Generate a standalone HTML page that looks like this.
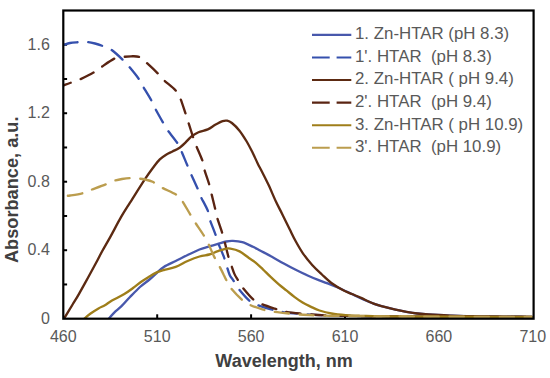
<!DOCTYPE html>
<html><head><meta charset="utf-8"><style>
html,body{margin:0;padding:0;background:#fff;}
body{width:550px;height:378px;overflow:hidden;font-family:"Liberation Sans",sans-serif;}
svg{display:block;}
</style></head><body>
<svg width="550" height="378" viewBox="0 0 550 378">
<g stroke="#000" stroke-width="2"><line x1="63.3" y1="284.46" x2="67.1" y2="284.46"/><line x1="63.3" y1="250.21" x2="67.1" y2="250.21"/><line x1="63.3" y1="215.97" x2="67.1" y2="215.97"/><line x1="63.3" y1="181.72" x2="67.1" y2="181.72"/><line x1="63.3" y1="147.48" x2="67.1" y2="147.48"/><line x1="63.3" y1="113.23" x2="67.1" y2="113.23"/><line x1="63.3" y1="78.99" x2="67.1" y2="78.99"/><line x1="63.3" y1="44.74" x2="67.1" y2="44.74"/><line x1="157.20" y1="318.7" x2="157.20" y2="314.3"/><line x1="251.10" y1="318.7" x2="251.10" y2="314.3"/><line x1="345.00" y1="318.7" x2="345.00" y2="314.3"/><line x1="438.90" y1="318.7" x2="438.90" y2="314.3"/></g>
<defs><clipPath id="pa"><rect x="63.3" y="10.5" width="469.5" height="308.2"/></clipPath></defs><g clip-path="url(#pa)">
<path d="M108.4,319.2 C109.3,318.1 111.8,315.0 114.0,312.8 C116.2,310.6 118.8,308.8 121.5,306.2 C124.2,303.6 126.9,300.2 130.0,297.0 C133.1,293.8 136.8,289.9 140.0,287.0 C143.2,284.1 146.7,281.8 149.5,279.5 C152.3,277.2 154.3,275.1 156.7,273.0 C159.1,270.9 160.6,269.0 163.8,267.0 C167.0,265.0 171.7,263.0 175.7,261.0 C179.7,259.0 183.6,256.9 187.6,255.0 C191.6,253.1 196.1,250.9 199.5,249.5 C202.9,248.1 205.0,247.7 207.9,246.8 C210.8,245.9 214.1,245.1 217.2,244.2 C220.3,243.3 223.8,242.1 226.4,241.5 C229.0,240.9 230.3,240.8 233.0,240.9 C235.7,241.0 239.0,241.2 242.3,242.2 C245.6,243.2 250.0,245.4 252.9,246.8 C255.8,248.2 256.8,248.8 260.0,250.5 C263.2,252.2 267.9,254.6 271.9,256.8 C275.9,259.0 279.8,261.3 283.8,263.5 C287.8,265.7 291.7,267.8 295.7,269.8 C299.7,271.8 304.0,273.9 307.6,275.5 C311.2,277.1 314.2,278.4 317.5,279.7 C320.8,281.0 323.9,281.9 327.6,283.4 C331.4,284.9 336.0,286.7 340.0,288.5 C344.0,290.3 348.0,292.2 351.8,294.0 C355.6,295.8 359.1,297.7 362.7,299.3 C366.3,300.9 370.0,302.3 373.6,303.6 C377.2,304.9 380.9,305.9 384.5,306.9 C388.1,307.9 391.9,308.9 395.5,309.7 C399.1,310.5 402.8,311.3 406.4,311.9 C410.0,312.5 413.7,313.1 417.3,313.5 C420.9,313.9 422.8,314.1 428.2,314.5 C433.6,314.9 441.4,315.3 450.0,315.6 C458.6,315.9 466.3,316.2 480.0,316.4 C493.7,316.6 523.3,316.8 532.0,316.9" fill="none" stroke="#4858ac" stroke-width="2.35" stroke-linecap="round" stroke-linejoin="round"/>
<path d="M63.6,45.0 C64.7,44.7 67.6,43.5 70.0,43.0 C72.4,42.5 75.1,42.4 77.9,42.2 C80.7,42.0 83.8,41.7 86.6,41.9 C89.4,42.1 92.3,42.8 95.0,43.5 C97.7,44.2 100.1,45.0 102.5,45.9 C104.9,46.8 107.3,47.4 109.6,48.7 C111.8,50.0 113.9,51.7 116.0,53.5 C118.1,55.3 120.2,57.3 122.3,59.4 C124.4,61.5 125.9,62.9 128.7,66.2 C131.5,69.5 136.7,75.9 139.0,79.2 C141.3,82.5 140.6,82.5 142.7,86.0 C144.8,89.5 149.2,96.6 151.3,100.3 C153.4,104.0 153.2,104.6 155.1,108.3 C157.0,112.0 161.0,119.0 163.0,122.5 C165.0,126.0 164.5,125.9 166.9,129.3 C169.3,132.7 174.8,139.2 177.2,142.8 C179.6,146.4 179.5,146.9 181.2,150.7 C182.9,154.5 185.9,162.1 187.5,165.8 C189.1,169.5 188.8,169.2 190.5,173.0 C192.2,176.8 195.9,184.7 197.6,188.5 C199.2,192.3 198.7,192.2 200.4,195.9 C202.1,199.6 206.3,206.8 207.8,210.7 C209.3,214.5 208.3,215.1 209.6,219.0 C210.9,222.9 214.0,230.4 215.4,234.3 C216.8,238.2 216.4,238.5 217.8,242.2 C219.2,245.9 222.4,252.8 223.8,256.7 C225.2,260.6 225.5,262.2 226.5,265.3 C227.5,268.4 228.6,272.5 229.7,275.0 C230.8,277.5 232.0,278.2 233.3,280.3 C234.6,282.4 235.1,284.2 237.6,287.5 C240.1,290.8 245.5,297.1 248.5,299.9 C251.5,302.7 252.0,302.7 255.8,304.3 C259.6,305.9 265.4,307.9 271.1,309.4 C276.8,310.8 280.2,312.0 290.0,313.0 C299.8,314.0 311.7,314.9 330.0,315.5 C348.3,316.1 366.3,316.2 400.0,316.5 C433.7,316.8 510.0,316.9 532.0,317.0" fill="none" stroke="#3550ad" stroke-width="2.35" stroke-linecap="round" stroke-linejoin="round" stroke-dasharray="14.3 10.7" stroke-dashoffset="0.0"/>
<path d="M64.0,318.7 C65.4,316.4 69.9,309.0 72.3,305.0 C74.7,301.0 76.0,299.3 78.6,294.7 C81.2,290.1 84.9,283.3 88.1,277.5 C91.3,271.7 95.3,264.3 97.6,260.0 C99.9,255.7 99.9,255.3 102.0,251.5 C104.1,247.7 107.0,242.8 110.2,237.1 C113.4,231.4 117.7,222.9 121.0,217.2 C124.3,211.5 126.0,209.0 130.0,202.7 C134.0,196.4 140.9,185.3 144.8,179.4 C148.7,173.5 150.7,170.8 153.2,167.5 C155.7,164.2 157.7,161.5 159.8,159.4 C162.0,157.3 164.0,156.0 166.1,154.7 C168.2,153.4 170.4,152.6 172.5,151.5 C174.6,150.4 176.7,149.8 178.8,148.3 C180.9,146.9 183.1,144.8 185.2,142.8 C187.3,140.8 189.3,138.2 191.5,136.4 C193.7,134.6 195.8,133.4 198.5,132.2 C201.2,131.0 205.0,130.6 207.8,129.4 C210.6,128.2 212.7,126.2 215.2,124.8 C217.7,123.4 220.6,121.8 222.6,121.1 C224.6,120.4 225.6,120.4 227.2,120.7 C228.8,121.0 229.9,121.4 231.9,123.0 C233.9,124.6 236.8,127.3 239.3,130.4 C241.8,133.5 244.5,137.9 246.7,141.5 C248.8,145.1 250.3,148.0 252.2,151.7 C254.0,155.4 256.3,160.6 257.8,163.7 C259.3,166.8 259.3,166.5 261.1,170.0 C262.9,173.5 266.0,179.6 268.5,184.8 C271.0,190.1 273.6,196.6 275.9,201.5 C278.2,206.4 280.1,209.7 282.4,214.4 C284.7,219.1 287.6,225.0 289.8,229.5 C292.0,234.0 293.5,237.3 295.7,241.3 C297.9,245.3 300.1,249.3 302.9,253.3 C305.7,257.3 309.2,261.7 312.4,265.2 C315.6,268.7 318.7,271.5 321.9,274.5 C325.1,277.5 327.8,280.4 331.4,283.0 C335.0,285.6 339.9,288.5 343.3,290.3 C346.7,292.1 349.0,292.7 352.0,294.0 C355.0,295.3 357.5,296.3 361.1,297.9 C364.7,299.5 369.7,302.1 373.6,303.6 C377.5,305.1 380.9,305.9 384.5,306.9 C388.1,307.9 391.9,308.9 395.5,309.7 C399.1,310.5 402.8,311.3 406.4,311.9 C410.0,312.5 413.7,313.1 417.3,313.5 C420.9,313.9 422.8,314.1 428.2,314.5 C433.6,314.9 441.4,315.3 450.0,315.6 C458.6,315.9 466.3,316.1 480.0,316.3 C493.7,316.5 523.3,316.7 532.0,316.8" fill="none" stroke="#5c2a12" stroke-width="2.35" stroke-linecap="round" stroke-linejoin="round"/>
<path d="M63.6,85.4 C64.7,85.0 67.5,83.9 70.0,83.0 C72.5,82.1 74.8,81.8 78.7,80.0 C82.7,78.2 90.2,74.5 93.7,72.5 C97.2,70.5 96.5,70.3 100.0,68.0 C103.5,65.7 110.6,60.4 114.4,58.6 C118.2,56.8 120.2,57.4 123.0,57.0 C125.8,56.6 128.2,56.3 131.0,56.3 C133.8,56.3 137.1,56.0 139.6,57.0 C142.1,58.0 142.8,59.5 145.9,62.2 C149.0,65.0 155.0,70.6 157.9,73.5 C160.8,76.4 160.6,77.0 163.5,79.8 C166.4,82.6 172.6,87.2 175.4,90.2 C178.2,93.2 178.5,94.1 180.2,98.1 C181.9,102.1 184.3,110.0 185.7,114.0 C187.0,118.0 187.1,118.2 188.3,122.1 C189.5,126.0 191.8,133.2 193.1,137.2 C194.4,141.2 194.8,142.1 196.3,146.0 C197.9,149.9 201.1,156.8 202.4,160.5 C203.7,164.2 203.1,165.1 204.0,168.3 C204.9,171.6 206.9,177.2 207.8,180.0 C208.7,182.8 208.8,182.8 209.3,184.8 C209.9,186.8 210.1,188.2 211.1,192.2 C212.1,196.2 214.2,204.7 215.2,208.9 C216.2,213.1 215.8,213.2 217.0,217.2 C218.2,221.2 221.0,229.1 222.2,233.0 C223.4,236.9 223.4,237.0 224.4,240.9 C225.4,244.8 227.3,252.8 228.4,256.7 C229.5,260.6 230.1,261.7 231.1,264.6 C232.1,267.5 233.3,271.4 234.4,273.9 C235.5,276.4 236.3,277.4 237.6,279.5 C238.9,281.6 239.4,283.5 242.0,286.8 C244.6,290.1 249.9,296.4 252.9,299.2 C255.9,302.0 256.6,301.9 260.2,303.5 C263.8,305.1 270.7,307.3 274.7,308.6 C278.7,309.9 280.0,310.7 284.2,311.5 C288.4,312.3 292.4,312.8 300.0,313.5 C307.6,314.2 313.3,315.0 330.0,315.5 C346.7,316.0 366.3,316.2 400.0,316.5 C433.7,316.8 510.0,316.9 532.0,317.0" fill="none" stroke="#5a2412" stroke-width="2.35" stroke-linecap="round" stroke-linejoin="round" stroke-dasharray="14.3 10.7" stroke-dashoffset="6.7"/>
<path d="M84.4,318.7 C85.4,317.8 88.2,315.2 90.6,313.5 C92.9,311.8 96.1,309.8 98.5,308.4 C100.9,307.0 102.7,306.5 104.9,305.2 C107.2,303.9 108.8,302.3 112.0,300.5 C115.2,298.7 120.4,296.4 123.9,294.3 C127.4,292.2 130.0,290.2 133.0,288.0 C136.0,285.8 139.2,283.1 142.0,281.2 C144.8,279.3 147.1,277.9 149.5,276.4 C151.9,274.9 154.3,273.5 156.7,272.4 C159.1,271.3 160.6,270.9 163.8,270.0 C167.0,269.1 171.7,268.4 175.7,266.9 C179.7,265.4 183.6,262.7 187.6,261.0 C191.6,259.3 195.9,257.6 199.5,256.5 C203.1,255.4 206.4,255.3 209.3,254.5 C212.2,253.7 214.6,252.3 217.2,251.4 C219.8,250.5 222.9,249.3 225.1,248.8 C227.3,248.3 228.0,248.2 230.4,248.6 C232.8,249.0 236.5,249.8 239.6,251.4 C242.7,253.0 246.3,256.2 248.9,258.0 C251.5,259.8 252.7,260.2 255.0,262.1 C257.3,264.0 260.2,266.8 262.9,269.3 C265.5,271.8 268.2,274.7 270.9,277.2 C273.5,279.7 276.2,282.1 278.8,284.4 C281.4,286.6 284.1,288.6 286.7,290.7 C289.3,292.8 292.0,295.1 294.7,297.1 C297.4,299.1 300.0,301.0 302.6,302.6 C305.2,304.2 307.8,305.3 310.6,306.6 C313.4,307.9 316.0,309.4 319.5,310.5 C323.0,311.6 327.0,312.7 331.4,313.5 C335.8,314.3 340.9,314.8 345.7,315.2 C350.5,315.6 350.9,315.6 360.0,315.8 C369.1,316.0 371.3,316.3 400.0,316.5 C428.7,316.7 510.0,316.9 532.0,317.0" fill="none" stroke="#9f7e1a" stroke-width="2.35" stroke-linecap="round" stroke-linejoin="round"/>
<path d="M63.6,196.0 C64.7,195.9 66.8,196.0 70.0,195.5 C73.2,195.0 79.3,194.1 82.7,193.2 C86.1,192.3 86.4,191.6 90.4,190.1 C94.4,188.6 102.7,185.6 106.7,184.0 C110.7,182.4 111.9,181.5 114.4,180.7 C117.0,179.9 119.5,179.4 122.0,179.0 C124.5,178.6 127.0,178.2 129.6,178.1 C132.2,178.0 134.7,178.3 137.3,178.5 C139.9,178.7 142.4,178.9 145.0,179.5 C147.6,180.1 149.9,180.5 152.6,181.8 C155.3,183.1 157.3,185.1 161.3,187.3 C165.3,189.5 173.2,192.7 176.6,194.9 C180.0,197.1 179.6,197.3 181.9,200.6 C184.2,203.8 188.0,210.8 190.2,214.4 C192.3,218.0 192.5,218.4 194.8,221.9 C197.1,225.4 201.8,232.2 204.0,235.7 C206.2,239.2 206.2,239.2 207.9,242.8 C209.7,246.4 212.7,253.8 214.5,257.4 C216.3,261.0 216.9,261.7 218.5,264.6 C220.1,267.5 222.6,272.5 223.8,275.0 C225.1,277.5 224.9,277.4 226.0,279.5 C227.1,281.6 227.8,284.2 230.4,287.5 C233.0,290.8 238.3,296.4 241.3,299.2 C244.3,302.0 245.0,302.6 248.5,304.3 C252.0,306.0 258.4,308.2 262.4,309.4 C266.4,310.6 269.1,310.9 272.5,311.5 C275.9,312.1 278.1,312.3 282.7,312.8 C287.3,313.3 292.1,314.0 300.0,314.5 C307.9,315.0 313.3,315.5 330.0,315.8 C346.7,316.1 366.3,316.3 400.0,316.5 C433.7,316.7 510.0,316.9 532.0,317.0" fill="none" stroke="#bb9d4e" stroke-width="2.35" stroke-linecap="round" stroke-linejoin="round" stroke-dasharray="14.3 10.7" stroke-dashoffset="-4.5"/>
</g>
<rect x="63.3" y="10.5" width="470.3" height="308.2" fill="none" stroke="#000" stroke-width="2.2"/>
<g font-family="Liberation Sans, sans-serif" font-size="16" fill="#595959"><text x="49.8" y="323.6" text-anchor="end">0</text><text x="49.8" y="255.1" text-anchor="end">0.4</text><text x="49.8" y="186.6" text-anchor="end">0.8</text><text x="49.8" y="118.1" text-anchor="end">1.2</text><text x="49.8" y="49.6" text-anchor="end">1.6</text><text x="63.3" y="341.8" text-anchor="middle">460</text><text x="157.2" y="341.8" text-anchor="middle">510</text><text x="251.1" y="341.8" text-anchor="middle">560</text><text x="345.0" y="341.8" text-anchor="middle">610</text><text x="438.9" y="341.8" text-anchor="middle">660</text><text x="532.8" y="341.8" text-anchor="middle">710</text></g>
<text x="284" y="367.3" text-anchor="middle" font-family="Liberation Sans, sans-serif" font-weight="bold" font-size="18" fill="#404040">Wavelength, nm</text>
<text transform="translate(17.7,189.8) rotate(-90)" text-anchor="middle" font-family="Liberation Sans, sans-serif" font-weight="bold" font-size="18.2" fill="#404040">Absorbance, a.u.</text>
<g font-family="Liberation Sans, sans-serif" font-size="16.85" fill="#595959"><line x1="312" y1="34.90" x2="351.3" y2="34.90" stroke="#4858ac" stroke-width="2.1"/><text x="355" y="39.25" xml:space="preserve">1. Zn-HTAR (pH 8.3)</text><line x1="312" y1="57.48" x2="351.3" y2="57.48" stroke="#3550ad" stroke-width="2.1" stroke-dasharray="17.7 6.9"/><text x="355" y="61.83" xml:space="preserve">1'. HTAR  (pH 8.3)</text><line x1="312" y1="80.06" x2="351.3" y2="80.06" stroke="#5c2a12" stroke-width="2.1"/><text x="355" y="84.41" xml:space="preserve">2. Zn-HTAR ( pH 9.4)</text><line x1="312" y1="102.64" x2="351.3" y2="102.64" stroke="#5a2412" stroke-width="2.1" stroke-dasharray="17.7 6.9"/><text x="355" y="106.99" xml:space="preserve">2'. HTAR  (pH 9.4)</text><line x1="312" y1="125.22" x2="351.3" y2="125.22" stroke="#9f7e1a" stroke-width="2.1"/><text x="355" y="129.57" xml:space="preserve">3. Zn-HTAR ( pH 10.9)</text><line x1="312" y1="147.80" x2="351.3" y2="147.80" stroke="#bb9d4e" stroke-width="2.1" stroke-dasharray="17.7 6.9"/><text x="355" y="152.15" xml:space="preserve">3'. HTAR  (pH 10.9)</text></g>
</svg>
</body></html>
